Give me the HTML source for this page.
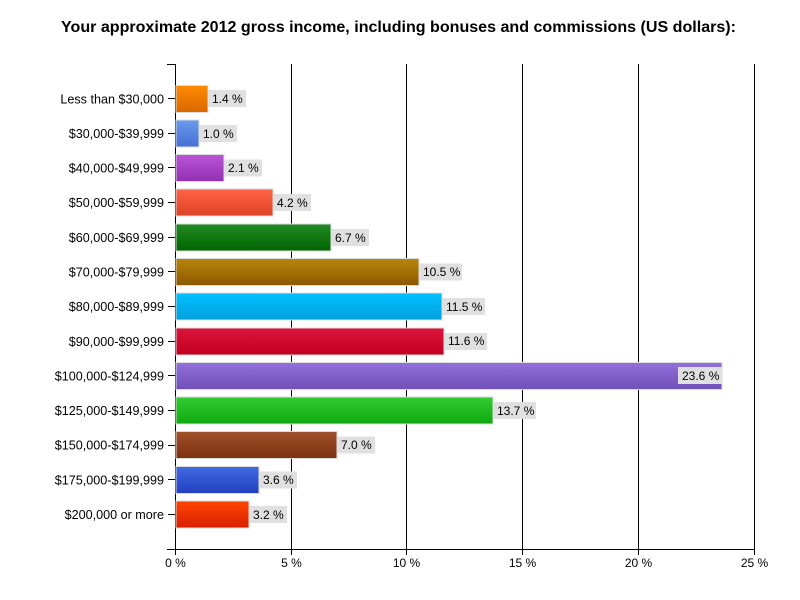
<!DOCTYPE html>
<html>
<head>
<meta charset="utf-8">
<style>
html,body{margin:0;padding:0;background:#fff;}
svg{display:block;}
text{font-family:"Liberation Sans",Arial,sans-serif;fill:#000;}
</style>
</head>
<body>
<svg width="800" height="600" viewBox="0 0 800 600" xmlns="http://www.w3.org/2000/svg">
<defs>
<linearGradient id="g0" x1="0" y1="0" x2="0" y2="1"><stop offset="0" stop-color="#ff8c00"/><stop offset="1" stop-color="#d96600"/></linearGradient>
<linearGradient id="g1" x1="0" y1="0" x2="0" y2="1"><stop offset="0" stop-color="#6a9aee"/><stop offset="1" stop-color="#4470d2"/></linearGradient>
<linearGradient id="g2" x1="0" y1="0" x2="0" y2="1"><stop offset="0" stop-color="#bb55d6"/><stop offset="1" stop-color="#9030b2"/></linearGradient>
<linearGradient id="g3" x1="0" y1="0" x2="0" y2="1"><stop offset="0" stop-color="#ff6448"/><stop offset="1" stop-color="#dd4224"/></linearGradient>
<linearGradient id="g4" x1="0" y1="0" x2="0" y2="1"><stop offset="0" stop-color="#228b22"/><stop offset="1" stop-color="#006400"/></linearGradient>
<linearGradient id="g5" x1="0" y1="0" x2="0" y2="1"><stop offset="0" stop-color="#b8860b"/><stop offset="1" stop-color="#8c5800"/></linearGradient>
<linearGradient id="g6" x1="0" y1="0" x2="0" y2="1"><stop offset="0" stop-color="#00c0ff"/><stop offset="1" stop-color="#00a0dc"/></linearGradient>
<linearGradient id="g7" x1="0" y1="0" x2="0" y2="1"><stop offset="0" stop-color="#dc143c"/><stop offset="1" stop-color="#c00020"/></linearGradient>
<linearGradient id="g8" x1="0" y1="0" x2="0" y2="1"><stop offset="0" stop-color="#9370db"/><stop offset="1" stop-color="#7050b8"/></linearGradient>
<linearGradient id="g9" x1="0" y1="0" x2="0" y2="1"><stop offset="0" stop-color="#32cd32"/><stop offset="1" stop-color="#10a810"/></linearGradient>
<linearGradient id="g10" x1="0" y1="0" x2="0" y2="1"><stop offset="0" stop-color="#a0522d"/><stop offset="1" stop-color="#7e3010"/></linearGradient>
<linearGradient id="g11" x1="0" y1="0" x2="0" y2="1"><stop offset="0" stop-color="#4169e1"/><stop offset="1" stop-color="#2040c0"/></linearGradient>
<linearGradient id="g12" x1="0" y1="0" x2="0" y2="1"><stop offset="0" stop-color="#ff4500"/><stop offset="1" stop-color="#d82000"/></linearGradient>
</defs>

<text x="398.5" y="32" text-anchor="middle" font-size="16" font-weight="bold" textLength="675" lengthAdjust="spacingAndGlyphs">Your approximate 2012 gross income, including bonuses and commissions (US dollars):</text>

<!-- grid lines -->
<g stroke="#000" stroke-width="1">
<line x1="291.5" y1="64" x2="291.5" y2="555"/>
<line x1="406.5" y1="64" x2="406.5" y2="555"/>
<line x1="522.5" y1="64" x2="522.5" y2="555"/>
<line x1="638.5" y1="64" x2="638.5" y2="555"/>
<line x1="754.5" y1="64" x2="754.5" y2="555"/>
<!-- axes -->
<line x1="175.5" y1="64" x2="175.5" y2="555"/>
<line x1="167" y1="549.5" x2="755" y2="549.5"/>
<line x1="167" y1="64.5" x2="176" y2="64.5"/>
<!-- category ticks -->
<line x1="168" y1="98.5" x2="175" y2="98.5"/>
<line x1="168" y1="133.5" x2="175" y2="133.5"/>
<line x1="168" y1="167.5" x2="175" y2="167.5"/>
<line x1="168" y1="202.5" x2="175" y2="202.5"/>
<line x1="168" y1="237.5" x2="175" y2="237.5"/>
<line x1="168" y1="271.5" x2="175" y2="271.5"/>
<line x1="168" y1="306.5" x2="175" y2="306.5"/>
<line x1="168" y1="341.5" x2="175" y2="341.5"/>
<line x1="168" y1="375.5" x2="175" y2="375.5"/>
<line x1="168" y1="410.5" x2="175" y2="410.5"/>
<line x1="168" y1="445.5" x2="175" y2="445.5"/>
<line x1="168" y1="479.5" x2="175" y2="479.5"/>
<line x1="168" y1="514.5" x2="175" y2="514.5"/>
</g>

<!-- x tick labels -->
<g font-size="12" text-anchor="middle">
<text x="175.5" y="567">0 %</text>
<text x="291.5" y="567">5 %</text>
<text x="406.5" y="567">10 %</text>
<text x="522.5" y="567">15 %</text>
<text x="638.5" y="567">20 %</text>
<text x="754.5" y="567">25 %</text>
</g>

<!-- category labels -->
<g font-size="12.6" text-anchor="end">
<text x="164" y="103.5">Less than $30,000</text>
<text x="164" y="138">$30,000-$39,999</text>
<text x="164" y="172.5">$40,000-$49,999</text>
<text x="164" y="207">$50,000-$59,999</text>
<text x="164" y="242">$60,000-$69,999</text>
<text x="164" y="276.5">$70,000-$79,999</text>
<text x="164" y="311">$80,000-$89,999</text>
<text x="164" y="346">$90,000-$99,999</text>
<text x="164" y="380.5">$100,000-$124,999</text>
<text x="164" y="415">$125,000-$149,999</text>
<text x="164" y="449.5">$150,000-$174,999</text>
<text x="164" y="484.5">$175,000-$199,999</text>
<text x="164" y="519">$200,000 or more</text>
</g>

<!-- bars -->
<g stroke="#dcdcdc" stroke-width="1">
<rect x="176" y="85.5" width="32" height="27" fill="url(#g0)"/>
<rect x="176" y="120" width="23" height="27" fill="url(#g1)"/>
<rect x="176" y="154.5" width="48" height="27" fill="url(#g2)"/>
<rect x="176" y="189" width="97" height="27" fill="url(#g3)"/>
<rect x="176" y="224" width="155" height="27" fill="url(#g4)"/>
<rect x="176" y="258.5" width="243" height="27" fill="url(#g5)"/>
<rect x="176" y="293" width="266" height="27" fill="url(#g6)"/>
<rect x="176" y="328" width="268" height="27" fill="url(#g7)"/>
<rect x="176" y="362.5" width="546" height="27" fill="url(#g8)"/>
<rect x="176" y="397" width="317" height="27" fill="url(#g9)"/>
<rect x="176" y="431.5" width="161" height="27" fill="url(#g10)"/>
<rect x="176" y="466.5" width="83" height="27" fill="url(#g11)"/>
<rect x="176" y="501" width="73" height="27" fill="url(#g12)"/>
</g>

<!-- value label boxes -->
<g fill="#e0e0e0">
<rect x="208" y="90" width="38" height="17"/>
<rect x="199" y="125" width="38" height="17"/>
<rect x="224" y="159.5" width="38" height="17"/>
<rect x="273" y="194" width="38" height="17"/>
<rect x="331" y="229" width="38" height="17"/>
<rect x="419" y="263.5" width="43" height="17"/>
<rect x="442" y="298" width="43" height="17"/>
<rect x="444" y="333" width="43" height="17"/>
<rect x="678" y="367" width="44" height="17"/>
<rect x="493" y="402" width="43" height="17"/>
<rect x="337" y="436.5" width="38" height="17"/>
<rect x="259" y="471.5" width="38" height="17"/>
<rect x="249" y="506" width="38" height="17"/>
</g>
<g font-size="12">
<text x="212" y="103">1.4 %</text>
<text x="203" y="138">1.0 %</text>
<text x="228" y="172">2.1 %</text>
<text x="277" y="207">4.2 %</text>
<text x="335" y="242">6.7 %</text>
<text x="423" y="276">10.5 %</text>
<text x="446" y="311">11.5 %</text>
<text x="448" y="345">11.6 %</text>
<text x="682" y="380">23.6 %</text>
<text x="497" y="415">13.7 %</text>
<text x="341" y="449">7.0 %</text>
<text x="263" y="484">3.6 %</text>
<text x="253" y="519">3.2 %</text>
</g>
</svg>
</body>
</html>
